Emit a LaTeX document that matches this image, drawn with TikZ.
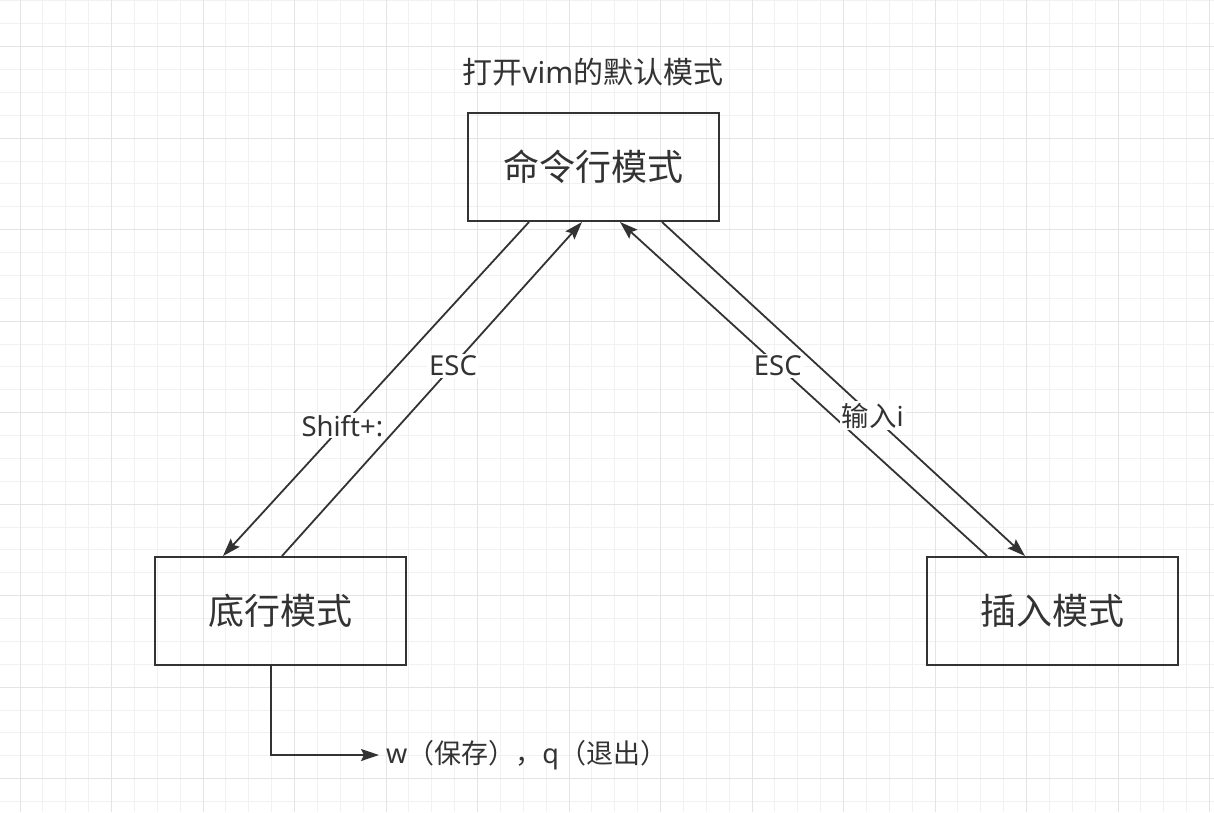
\documentclass[tikz,border=0pt]{standalone}
\usepackage{fontspec}
\setmainfont{Noto Sans}
\newfontfamily\cjk{Noto Sans CJK SC}
\usetikzlibrary{arrows.meta}
\definecolor{ink}{HTML}{333333}
\definecolor{gridminor}{HTML}{F1F1F1}
\definecolor{gridmajor}{HTML}{E4E4E4}

\begin{document}
\begin{tikzpicture}[x=1pt,y=-1pt,>={Stealth[length=18pt,width=12pt,inset=3pt]},
  mode/.style={draw=ink,line width=2pt,minimum width=251pt,minimum height=108pt,inner sep=0pt,text=ink,font=\cjk\fontsize{36}{40}\selectfont},
  lab/.style={fill=white,inner sep=2pt,text=ink,font=\fontsize{27.5}{32}\selectfont},
  link/.style={draw=ink,line width=1.8pt,->}]
  \fill[white] (0,0) rectangle (1214,812);
  \useasboundingbox (0,0) rectangle (1214,812);
  \foreach \i in {0,...,52} \draw[gridminor,line width=1pt] ({20+22.875*\i},0)--({20+22.875*\i},812);
  \foreach \i in {0,...,35} \draw[gridminor,line width=1pt] (0,{0.95+22.875*\i})--(1214,{0.95+22.875*\i});
  \foreach \i in {0,...,13} \draw[gridmajor,line width=1pt] ({20+91.5*\i},0)--({20+91.5*\i},812);
  \foreach \i in {0,...,8} \draw[gridmajor,line width=1pt] (0,{46.7+91.5*\i})--(1214,{46.7+91.5*\i});
  \node[text=ink,font=\fontsize{30}{34}\selectfont] (title) at (593,72) {{\cjk 打开}vim{\cjk 的默认模式}};
  \node[mode] (cmd) at (593.5,167) {命令行模式};
  \node[mode] (bottom) at (280.5,611) {底行模式};
  \node[mode] (insert) at (1052.5,611) {插入模式};
  \node[anchor=west,inner sep=7pt,text=ink,font=\fontsize{27}{32}\selectfont] (save) at (379,755) {w{\cjk（保存），}q{\cjk（退出）}};
  \draw[link] ([xshift=62pt]cmd.south west) -- node[lab,pos=0.61]{Shift+:} ([xshift=69pt]bottom.north west);
  \draw[link] ([xshift=1.5pt]bottom.north) -- node[lab,pos=0.57]{ESC} ([xshift=-11.5pt]cmd.south);
  \draw[link] ([xshift=61pt]insert.north west) -- node[lab,pos=0.57]{ESC} ([xshift=26.5pt]cmd.south);
  \draw[link] ([xshift=68.5pt]cmd.south) -- node[lab,pos=0.58]{{\cjk 输入}i} ([xshift=-27.5pt]insert.north);
  \draw[link] ([xshift=-9.5pt]bottom.south) |- (save.west);
\end{tikzpicture}
\end{document}
